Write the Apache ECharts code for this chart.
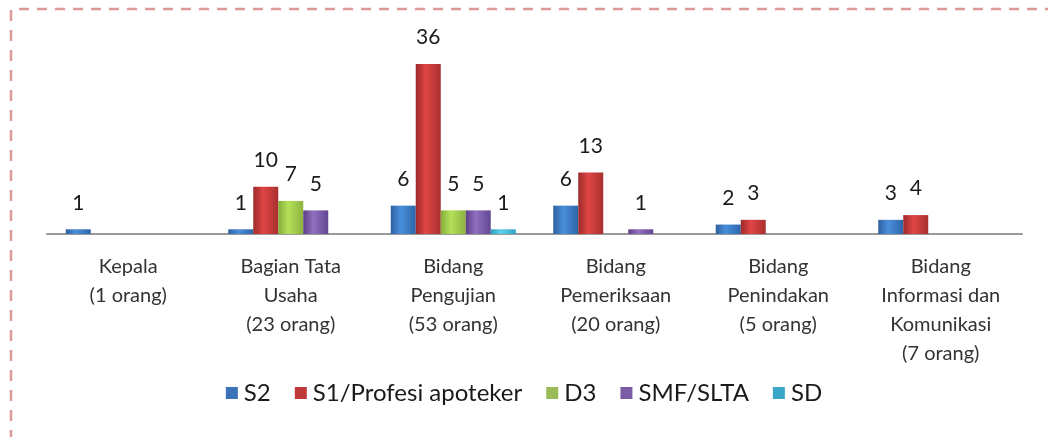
<!DOCTYPE html>
<html>
<head>
<meta charset="utf-8">
<script src="https://cdn.jsdelivr.net/npm/echarts@6/dist/echarts.min.js"></script>
<style>
    html, body { margin: 0; padding: 0; background: #fff; }
    #chart { width: 1048px; height: 437px; }
</style>
</head>
<body>
<div id="chart"></div>
<script>
const categories = [
    'Kepala\n(1 orang)',
    'Bagian Tata\nUsaha\n(23 orang)',
    'Bidang\nPengujian\n(53 orang)',
    'Bidang\nPemeriksaan\n(20 orang)',
    'Bidang\nPenindakan\n(5 orang)',
    'Bidang\nInformasi dan\nKomunikasi\n(7 orang)'
];
const seriesNames = ['S2', 'S1/Profesi apoteker', 'D3', 'SMF/SLTA', 'SD'];
// '-' = no bar
const s2 = [1, 1, 6, 6, 2, 3];
const s1 = ['-', 10, 36, 13, 3, 4];
const d3 = ['-', 7, 5, '-', '-', '-'];
const smf = ['-', 5, 5, 1, '-', '-'];
const sd = ['-', '-', 1, '-', '-', '-'];

const palette = [
    { flat: '#3b73b9', stops: ['#2e5f9e', '#4a8fdc', '#2d65a8'] },
    { flat: '#c0393b', stops: ['#9c2a2a', '#e04545', '#a83030'] },
    { flat: '#9bbb59', stops: ['#86ad3c', '#b4e059', '#8cb340'] },
    { flat: '#7b5ba6', stops: ['#5c3f86', '#9070c0', '#624690'] },
    { flat: '#3ba7c7', stops: ['#2b9dbd', '#5ed0ec', '#2fa4c4'] }
];

const myChart = echarts.init(document.getElementById('chart'));

const makeSeries = (name, data, i) => ({
    name: name,
    type: 'bar',
    data: data,
    barWidth: 25,
    barGap: '0%',
    itemStyle: {
        color: new echarts.graphic.LinearGradient(0, 0, 1, 0, [
            { offset: 0, color: palette[i].stops[0] },
            { offset: 0.4, color: palette[i].stops[1] },
            { offset: 1, color: palette[i].stops[2] }
        ])
    },
    label: {
        show: true,
        position: 'top',
        distance: 16,
        fontFamily: 'Lato',
        fontSize: 21,
        color: '#1a1a1a'
    }
});

const option = {
    animation: false,
    grid: {
        left: 47,
        right: 26,
        top: 45,
        bottom: 203
    },
    legend: {
        bottom: 27,
        left: 'center',
        icon: 'rect',
        itemWidth: 12,
        itemHeight: 12,
        itemGap: 24,
        textStyle: {
            fontFamily: 'Lato',
            fontSize: 24,
            color: '#1a1a1a',
            padding: [0, 0, 0, 1]
        },
        data: seriesNames.map((n, i) => ({ name: n, itemStyle: { color: palette[i].flat } }))
    },
    xAxis: {
        type: 'category',
        data: categories,
        axisTick: { show: false },
        axisLine: { lineStyle: { color: '#9a9a9a', width: 2 } },
        axisLabel: {
            interval: 0,
            margin: 18,
            fontFamily: 'Lato',
            fontSize: 20,
            lineHeight: 29,
            color: '#333333'
        }
    },
    yAxis: {
        type: 'value',
        min: 0,
        max: 40,
        show: false
    },
    series: [
        makeSeries(seriesNames[0], s2, 0),
        makeSeries(seriesNames[1], s1, 1),
        makeSeries(seriesNames[2], d3, 2),
        makeSeries(seriesNames[3], smf, 3),
        makeSeries(seriesNames[4], sd, 4)
    ],
    graphic: [
        {
            type: 'line',
            shape: { x1: 19, y1: 9, x2: 1048, y2: 9 },
            style: { stroke: '#dc9a9a', lineWidth: 2.5, lineDash: [10, 8] },
            silent: true
        },
        {
            type: 'line',
            shape: { x1: 11, y1: 10, x2: 11, y2: 437 },
            style: { stroke: '#dc9a9a', lineWidth: 2.5, lineDash: [11, 9] },
            silent: true
        }
    ]
};

myChart.setOption(option);
</script>
</body>
</html>
